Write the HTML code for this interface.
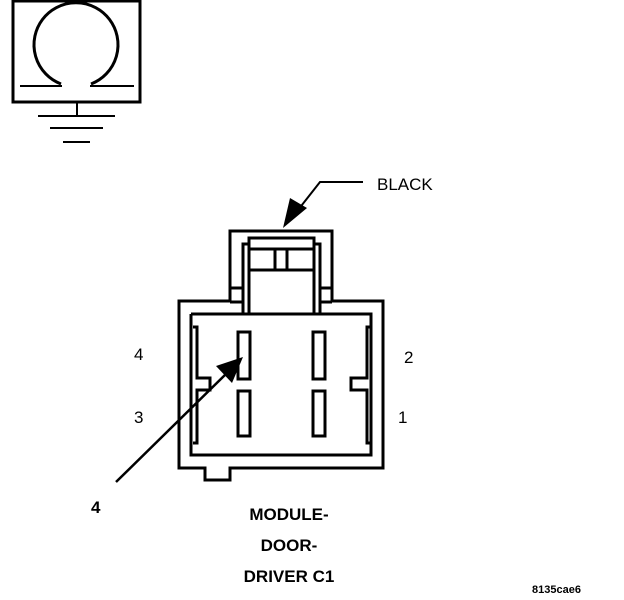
<!DOCTYPE html>
<html><head><style>body{margin:0;background:#fff}svg{display:block}</style></head><body>
<svg width="624" height="600" viewBox="0 0 624 600" xmlns="http://www.w3.org/2000/svg" font-family="Liberation Sans, Arial, sans-serif">
<g fill="none" stroke="#000" stroke-width="3">
<!-- ground symbol -->
<rect x="13" y="1" width="127" height="101"/>
<path d="M61,84 A42,42 0 1 1 91,84" stroke-width="3"/>
<line x1="20" y1="86" x2="62" y2="86" stroke-width="2"/>
<line x1="90" y1="86" x2="134" y2="86" stroke-width="2"/>
<line x1="77" y1="102" x2="77" y2="116" stroke-width="2"/>
<line x1="38" y1="116" x2="115" y2="116" stroke-width="2"/>
<line x1="50" y1="128" x2="103" y2="128" stroke-width="2"/>
<line x1="63" y1="142" x2="90" y2="142" stroke-width="2"/>
<!-- connector hood -->
<path d="M230,301 V231 H332 V301"/>
<rect x="249" y="238" width="65" height="76"/>
<line x1="249" y1="270" x2="314" y2="270"/>
<line x1="275" y1="249" x2="275" y2="270"/>
<line x1="287" y1="249" x2="287" y2="270"/>
<line x1="249" y1="249" x2="314" y2="249"/>
<path d="M249,244 H243 V314"/>
<path d="M314,244 H320 V314"/>
<line x1="230" y1="288" x2="243" y2="288"/>
<line x1="230" y1="302" x2="243" y2="302"/>
<line x1="320" y1="288" x2="332" y2="288"/>
<line x1="320" y1="302" x2="332" y2="302"/>
<!-- body -->
<path d="M230,301 H179 V468 H205 V480 H230 V468 H383 V301 H332"/>
<path d="M191,314 V455 H205"/>
<path d="M230,455 H371 V314 H191"/>
<line x1="205" y1="455" x2="230" y2="455"/>
<path d="M193,327 H197 V378 H210 V390 H197 V443 H193"/>
<path d="M371,327 H367 V378 H351 V390 H367 V443 H371"/>
<!-- pins -->
<rect x="238" y="332" width="12" height="47"/>
<rect x="238" y="391" width="12" height="45"/>
<rect x="313" y="332" width="12" height="47"/>
<rect x="313" y="391" width="12" height="45"/>
<!-- BLACK leader -->
<polyline points="363,182 320,182 298,210" stroke-width="2"/>
<line x1="116" y1="482" x2="228" y2="372" stroke-width="2.5"/>
</g>
<polygon points="283,228 290,198 307,208" fill="#000"/>
<polygon points="243,357 216,366 232,383" fill="#000"/>
<g font-size="17" fill="#000">
<text x="377" y="190">BLACK</text>
<text x="134" y="360">4</text>
<text x="134" y="423">3</text>
<text x="404" y="363">2</text>
<text x="398" y="423">1</text>
<text x="91" y="513" font-weight="bold">4</text>
</g>
<g font-size="17" font-weight="bold" text-anchor="middle" fill="#000">
<text x="289" y="520">MODULE-</text>
<text x="289" y="551">DOOR-</text>
<text x="289" y="582">DRIVER C1</text>
</g>
<text x="532" y="593" font-size="11" font-weight="bold">8135cae6</text>
</svg>
</body></html>
